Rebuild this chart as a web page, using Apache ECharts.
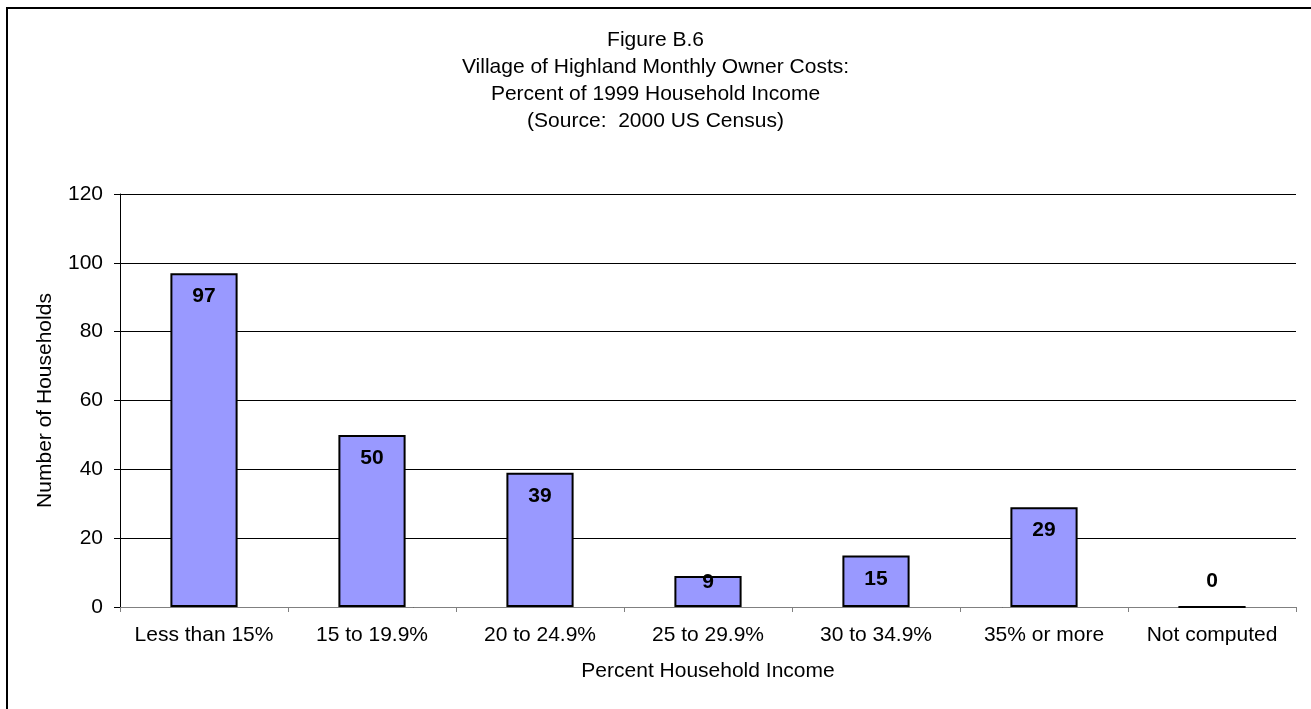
<!DOCTYPE html>
<html>
<head>
<meta charset="utf-8">
<script src="https://cdn.jsdelivr.net/npm/echarts@6/dist/echarts.min.js"></script>
<style>
  html, body { margin: 0; padding: 0; background: #fff; }
  #frame { position: absolute; left: 6px; top: 7px; width: 1310px; height: 710px; border: 2px solid #000; box-sizing: border-box; }
  #chart { position: absolute; left: 0; top: 0; width: 1311px; height: 709px; }
</style>
</head>
<body>
<div id="frame"></div>
<div id="chart"></div>
<script>
var categories = ['Less than 15%', '15 to 19.9%', '20 to 24.9%', '25 to 29.9%', '30 to 34.9%', '35% or more', 'Not computed'];
var households = [97, 50, 39, 9, 15, 29, 0];
var yTicks = { min: 0, max: 120, interval: 20 };

var chart = echarts.init(document.getElementById('chart'));
var font = 'Liberation Sans, Arial, sans-serif';

// label placement like Excel: inside end, pushed up for very short bars, above for zero
function barItem(v) {
    if (v === 0) {
        return { value: v, label: { position: 'top', distance: 14 } };
    }
    if (v < 12) {
        return { value: v, label: { position: 'insideTop', distance: -4 } };
    }
    return v;
}

var option = {
    animation: false,
    title: {
        text: 'Figure B.6\nVillage of Highland Monthly Owner Costs:\nPercent of 1999 Household Income\n(Source:  2000 US Census)',
        left: 'center',
        top: 27,
        padding: 0,
        textStyle: {
            fontFamily: font,
            fontSize: 21,
            fontWeight: 'normal',
            color: '#000',
            lineHeight: 27
        }
    },
    grid: {
        left: 120,
        right: 15,
        top: 194,
        bottom: 102
    },
    xAxis: {
        type: 'category',
        data: categories,
        name: 'Percent Household Income',
        nameLocation: 'middle',
        nameGap: 54,
        nameTextStyle: { fontFamily: font, fontSize: 21, color: '#000' },
        axisLine: { lineStyle: { color: '#808080', width: 1 } },
        axisTick: { show: true, length: 5, lineStyle: { color: '#808080' } },
        axisLabel: { interval: 0, fontFamily: font, fontSize: 21, color: '#000', margin: 18 }
    },
    yAxis: {
        type: 'value',
        min: yTicks.min,
        max: yTicks.max,
        interval: yTicks.interval,
        name: 'Number of Households',
        nameLocation: 'middle',
        nameGap: 64,
        nameTextStyle: { fontFamily: font, fontSize: 21, color: '#000' },
        axisLine: { show: true, lineStyle: { color: '#000', width: 1 } },
        axisTick: { show: true, length: 6, lineStyle: { color: '#000' } },
        axisLabel: { fontFamily: font, fontSize: 21, color: '#000', margin: 17 },
        splitLine: { show: true, lineStyle: { color: '#000', width: 1 } }
    },
    series: [{
        type: 'bar',
        barWidth: '40%',
        data: households.map(barItem),
        itemStyle: {
            color: '#9999FF',
            borderColor: '#000',
            borderWidth: 2
        },
        label: {
            show: true,
            position: 'insideTop',
            distance: 13,
            fontFamily: font,
            fontSize: 21,
            fontWeight: 'bold',
            color: '#000'
        }
    }]
};

chart.setOption(option);
</script>
</body>
</html>
